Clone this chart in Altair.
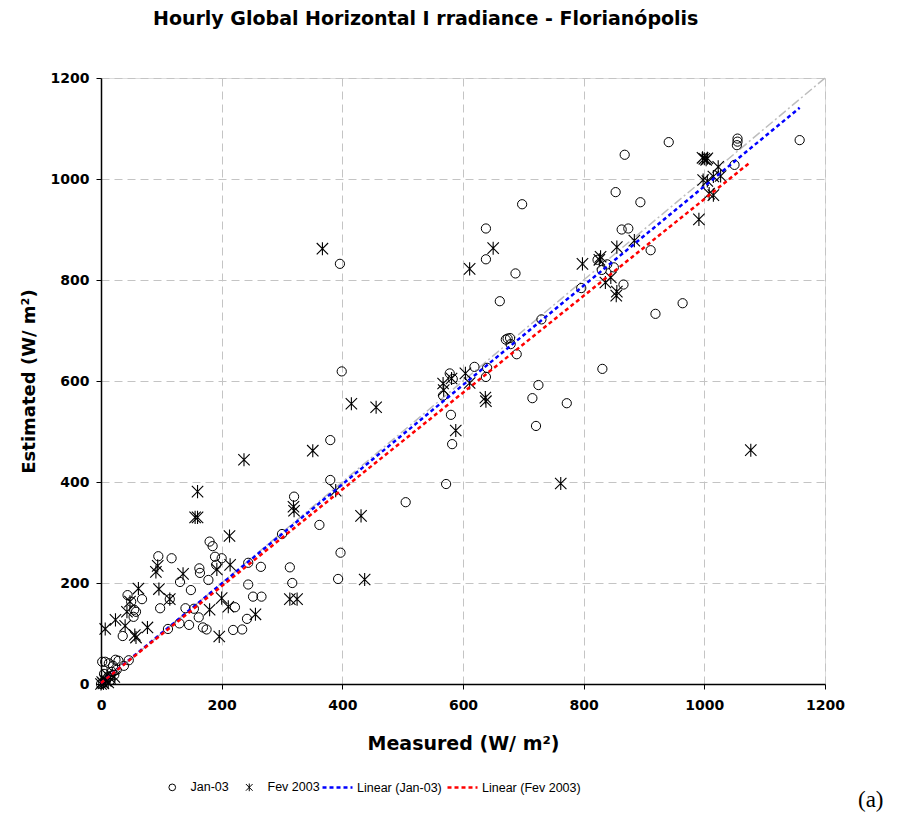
import altair as alt
import pandas as pd

# ---- data ----
jan_x = [1158, 1055, 1055, 1054, 1050, 941, 868, 853, 894, 911, 698, 638, 863, 874, 638, 687, 661, 964, 919,
         396, 399, 831, 823, 830, 839, 850, 866, 796, 730, 671, 674, 678, 679, 689, 619, 640, 638, 578, 583,
         567, 725, 715, 772, 721, 580, 582, 572, 380, 380, 505, 320, 300, 362, 397, 313, 317, 393,
         95, 117, 180, 185, 189, 200, 191, 163, 164, 131, 149, 178, 244, 244, 265, 44, 50, 68, 55, 58, 54,
         98, 114, 140, 154, 162, 146, 130, 169, 175, 219, 234, 242, 252, 266, 222, 36, 111,
         2, 7, 13, 20, 24, 29, 38, 46, 0, 3, 6, 9, 12, 5, 16, 18, 22, 26]
jan_y = [1077, 1080, 1074, 1067, 1028, 1073, 1048, 974, 954, 859, 950, 902, 900, 902, 841, 813, 758, 754, 733,
         832, 619, 624, 840, 820, 831, 825, 791, 784, 722, 682, 684, 685, 673, 653, 628, 626, 608, 615, 604,
         571, 592, 566, 556, 511, 533, 475, 396, 483, 404, 360, 371, 297, 315, 260, 231, 200, 208,
         253, 249, 282, 273, 252, 249, 236, 229, 220, 202, 186, 206, 197, 240, 232, 176, 163, 168, 147, 143, 133,
         150, 168, 150, 149, 132, 117, 120, 112, 108, 107, 108, 129, 173, 173, 152, 95, 109,
         44, 44, 41, 36, 48, 46, 36, 47, 0, 2, 5, 9, 14, 20, 8, 24, 18, 28]

fev_x = [367, 611, 650, 855, 884, 798, 828, 826, 845, 836, 855, 854, 611, 637, 638, 762, 997, 1000, 1003,
         1005, 1023, 998, 1005, 1015, 1027, 1008, 1015, 991, 1077, 415, 456, 351, 567, 568, 581, 604, 588,
         389, 319, 320, 431, 437, 313, 325, 237,
         160, 160, 156, 213, 94, 91, 136, 192, 214, 62, 96, 48, 43, 114, 200, 211, 180, 256, 40, 77, 56, 58,
         7, 24, 196, 0, 2, 4, 8, 12, 15, 10, 22]
fev_y = [862, 822, 863, 865, 878, 832, 846, 840, 805, 795, 777, 769, 596, 567, 560, 397, 1042, 1040, 1038,
         1041, 1024, 998, 996, 1005, 1006, 971, 968, 920, 463, 555, 548, 462, 595, 582, 605, 615, 502,
         383, 351, 343, 333, 207, 168, 168, 444,
         381, 330, 330, 293, 234, 222, 218, 227, 236, 189, 188, 163, 143, 168, 170, 153, 147, 138, 115, 112, 97, 92,
         109, 127, 94, 0, 4, 1, 6, 3, 12, 18, 14]

series_names = ["Jan-03", "Fev 2003"]
fit_names = ["Linear (Jan-03)", "Linear (Fev 2003)"]
fit_colors = ["#0000ff", "#ff0000"]
# trend-line end points
fit_x = [0, 1158, 0, 1077]
fit_y = [2, 1141, 2, 1034]
fit_series = [fit_names[0], fit_names[0], fit_names[1], fit_names[1]]
diag = [0, 1200]
ticks = [0, 200, 400, 600, 800, 1000, 1200]

pts = pd.DataFrame({
    "measured": jan_x + fev_x,
    "estimated": jan_y + fev_y,
    "series": [series_names[0]] * len(jan_x) + [series_names[1]] * len(fev_x),
})
fit_df = pd.DataFrame({"measured": fit_x, "estimated": fit_y, "fit": fit_series})
diag_df = pd.DataFrame({"measured": diag, "estimated": diag})
note_df = pd.DataFrame({"t": ["(a)"]})

ASTERISK = "M-1,-1L1,1M-1,1L1,-1M0,-1.15L0,1.15"
FONT = "DejaVu Sans"

xscale = alt.Scale(domain=[0, 1200], nice=False, zero=False)
yscale = alt.Scale(domain=[0, 1200], nice=False, zero=False)

xaxis = alt.Axis(values=ticks, title="Measured (W/ m²)", format="d",
                 labelFont=FONT, labelFontSize=14, labelFontWeight="bold", labelColor="black",
                 labelPadding=9, labelFlush=False, labelOverlap=False,
                 tickSize=5, tickColor="black", domainColor="black", domainWidth=1.5,
                 grid=True, gridColor="#c4c4c4", gridDash=[8, 5], gridWidth=1,
                 titleFont=FONT, titleFontSize=19, titleFontWeight="bold", titleColor="black",
                 titlePadding=22)
yaxis = alt.Axis(values=ticks, title="Estimated (W/ m²)", format="d",
                 labelFont=FONT, labelFontSize=14, labelFontWeight="bold", labelColor="black",
                 labelPadding=7, labelFlush=False, labelOverlap=False,
                 tickSize=5, tickColor="black", domainColor="black", domainWidth=1.5,
                 grid=True, gridColor="#c4c4c4", gridDash=[8, 5], gridWidth=1,
                 titleFont=FONT, titleFontSize=18, titleFontWeight="bold", titleColor="black",
                 titlePadding=12)

shape_scale = alt.Scale(domain=series_names, range=["circle", ASTERISK])
shape_legend = alt.Legend(title=None, orient="none", legendX=65, legendY=703, direction="horizontal",
                          symbolSize=45, symbolStrokeWidth=1, symbolStrokeColor="black",
                          symbolFillColor="transparent", labelFont="Liberation Sans", labelFontSize=12.5,
                          labelColor="black", labelOffset=12, columnPadding=14, padding=0)

diag_line = alt.Chart(diag_df).mark_line(color="#bdbdbd", strokeWidth=1.5, strokeDash=[9, 3, 2, 3]).encode(
    x=alt.X("measured:Q", scale=xscale, axis=xaxis),
    y=alt.Y("estimated:Q", scale=yscale, axis=yaxis),
)

fits = alt.Chart(fit_df).mark_line(strokeWidth=2.5, strokeDash=[4, 3]).encode(
    x=alt.X("measured:Q", scale=xscale),
    y=alt.Y("estimated:Q", scale=yscale),
    color=alt.Color("fit:N", scale=alt.Scale(domain=fit_names, range=fit_colors),
                    legend=alt.Legend(title=None, orient="none", legendX=220, legendY=693,
                                      direction="horizontal", symbolType="stroke", symbolSize=900,
                                      symbolStrokeWidth=2.5, symbolDash=[4, 3],
                                      labelFont="Liberation Sans", labelFontSize=12.5, labelColor="black",
                                      labelOffset=3, columnPadding=0, padding=0)),
)

circles = alt.Chart(pts).transform_filter(alt.datum.series == series_names[0]).mark_point(
    filled=False, color="black", strokeWidth=1, size=85, opacity=1
).encode(
    x=alt.X("measured:Q", scale=xscale),
    y=alt.Y("estimated:Q", scale=yscale),
    shape=alt.Shape("series:N", scale=shape_scale, legend=shape_legend),
)

stars = alt.Chart(pts).transform_filter(alt.datum.series == series_names[1]).mark_point(
    filled=False, color="black", strokeWidth=1.1, size=130, opacity=1
).encode(
    x=alt.X("measured:Q", scale=xscale),
    y=alt.Y("estimated:Q", scale=yscale),
    shape=alt.Shape("series:N", scale=shape_scale, legend=shape_legend),
)

note = alt.Chart(note_df).mark_text(font="Liberation Serif", fontSize=23, align="left",
                                    baseline="alphabetic", color="black").encode(
    text="t:N", x=alt.value(757), y=alt.value(729)
)

chart = alt.layer(diag_line, circles, stars, fits, note).properties(
    width=724, height=606,
    autosize=alt.AutoSizeParams(type="none"),
    padding={"left": 101, "top": 78, "right": 79, "bottom": 131},
    title=alt.TitleParams("Hourly Global Horizontal I rradiance - Florianópolis", font=FONT, fontSize=19,
                          fontWeight="bold", color="black", anchor="start", dx=52, offset=42,
                          frame="group"),
).configure_view(stroke=None).configure(background="white")

chart.save("out.html", embed_options={"renderer": "svg", "actions": False})
